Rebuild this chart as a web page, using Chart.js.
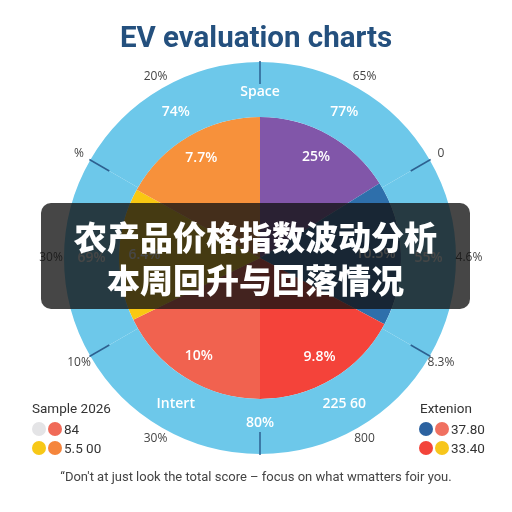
<!DOCTYPE html>
<html>
<head>
<meta charset="utf-8">
<script src="https://cdn.jsdelivr.net/npm/chart.js@4.4.1/dist/chart.umd.min.js"></script>
<style>
    html, body { margin: 0; padding: 0; background: #fff; }
    #wrap { position: relative; width: 512px; height: 512px; overflow: hidden; font-family: Roboto, "Noto Sans", sans-serif; }
    #chart { position: absolute; left: 0; top: 0; }
    .title { position: absolute; left: 0; width: 512px; top: 20px; text-align: center; font-size: 29.5px; font-weight: 700; color: #24507e; }
    .banner { position: absolute; left: 41px; top: 203px; width: 429px; height: 106px; border-radius: 10px; background: rgba(18, 18, 18, 0.78); }
    .banner div { color: #fff; font-family: "Noto Sans CJK SC", sans-serif; font-weight: 900; font-size: 33px; text-align: center; line-height: 43px; }
    .legend { position: absolute; font-size: 13.5px; color: #333; }
    .legend .row { display: flex; align-items: center; height: 19px; }
    .dot { width: 14px; height: 14px; border-radius: 50%; margin-right: 2px; }
    .footer { position: absolute; left: 0; width: 512px; top: 469px; text-align: center; font-size: 13px; color: #444; }
</style>
</head>
<body>
<div id="wrap">
    <canvas id="chart" width="512" height="512"></canvas>
    <div class="title">EV evaluation charts</div>
    <div class="banner">
        <div style="margin-top: 12px;">农产品价格指数波动分析</div>
        <div>本周回升与回落情况</div>
    </div>
    <div class="legend" style="left: 32px; top: 400px;">
        <div style="margin-bottom: 3px;">Sample 2026</div>
        <div class="row"><span class="dot" style="background:#e4e4e6"></span><span class="dot" style="background:#f06a58"></span>84</div>
        <div class="row"><span class="dot" style="background:#f7c817"></span><span class="dot" style="background:#f5853c"></span>5.5 00</div>
    </div>
    <div class="legend" style="left: 419px; top: 400px;">
        <div style="margin-bottom: 3px; padding-left: 1px;">Extenion</div>
        <div class="row"><span class="dot" style="background:#2c62a0"></span><span class="dot" style="background:#f07060"></span>37.80</div>
        <div class="row"><span class="dot" style="background:#f3443a"></span><span class="dot" style="background:#f7c61c"></span>33.40</div>
    </div>
    <div class="footer">“Don't at just look the total score – focus on what wmatters foir you.</div>
</div>
<script>
// 바깥 링 (6등분)
const ringValues = [60, 60, 60, 60, 60, 60];
const ringLabels = ['77%', '55%', '225 60', 'Intert', '69%', '74%'];
const ringEdgeLabels = ['Space', '', '', '80%', '', ''];
const outerMidLabels = ['65%', '4.6%', '800', '30%', '30%', '20%'];
const outerEdgeLabels = ['', '0', '8.3%', '', '10%', '%'];

// 안쪽 파이
const sliceValues = [58, 60, 62, 64, 55, 61];
const sliceLabels = ['25%', '10.5%', '9.8%', '10%', '6.4%', '7.7%'];
const sliceColors = ['#8156a9', '#2e6fab', '#f4433a', '#f1624f', '#f9c812', '#f7913b'];

// 라벨 및 눈금 그리기
const labelPlugin = {
    id: 'ringLabels',
    afterDatasetsDraw(chart) {
        const ctx = chart.ctx;
        const ring = chart.getDatasetMeta(0).data;
        const pie = chart.getDatasetMeta(1).data;
        const put = (text, angle, r, x, y) => {
            if (!text) return;
            ctx.fillText(text, x + Math.cos(angle) * r, y + Math.sin(angle) * r);
        };
        ctx.save();
        ctx.textAlign = 'center';
        ctx.textBaseline = 'middle';

        // 눈금
        ctx.strokeStyle = '#2d6090';
        ctx.lineWidth = 1.5;
        ring.forEach(arc => {
            const a = arc.startAngle;
            ctx.beginPath();
            ctx.moveTo(arc.x + Math.cos(a) * (arc.outerRadius - 22), arc.y + Math.sin(a) * (arc.outerRadius - 22));
            ctx.lineTo(arc.x + Math.cos(a) * (arc.outerRadius + 1), arc.y + Math.sin(a) * (arc.outerRadius + 1));
            ctx.stroke();
        });

        // 링 라벨
        ctx.fillStyle = '#fff';
        ctx.font = '600 14px "Open Sans", sans-serif';
        ring.forEach((arc, i) => {
            const mid = (arc.startAngle + arc.endAngle) / 2;
            const r = (arc.innerRadius + arc.outerRadius) / 2;
            put(ringLabels[i], mid, r, arc.x, arc.y);
            put(ringEdgeLabels[i], arc.startAngle, r - 3, arc.x, arc.y);
        });

        // 파이 라벨
        pie.forEach((arc, i) => {
            const mid = (arc.startAngle + arc.endAngle) / 2;
            put(sliceLabels[i], mid, arc.outerRadius * 0.82, arc.x, arc.y);
        });

        // 바깥 라벨
        ctx.fillStyle = '#444';
        ctx.font = '12px "Open Sans", sans-serif';
        ring.forEach((arc, i) => {
            const mid = (arc.startAngle + arc.endAngle) / 2;
            put(outerMidLabels[i], mid, arc.outerRadius + 13, arc.x, arc.y);
            put(outerEdgeLabels[i], arc.startAngle, arc.outerRadius + 13, arc.x, arc.y);
        });
        ctx.restore();
    }
};

new Chart(document.getElementById('chart'), {
    type: 'doughnut',
    data: {
        labels: sliceLabels,
        datasets: [{
            data: ringValues,
            backgroundColor: '#6dc8ea',
            borderWidth: 0,
            weight: 55
        }, {
            data: sliceValues,
            backgroundColor: sliceColors,
            borderWidth: 0,
            weight: 141
        }]
    },
    options: {
        responsive: false,
        animation: false,
        cutout: 0,
        layout: { padding: { left: 64, right: 56, top: 62, bottom: 58 } },
        plugins: { legend: { display: false }, tooltip: { enabled: false } }
    },
    plugins: [labelPlugin]
});
</script>
</body>
</html>
